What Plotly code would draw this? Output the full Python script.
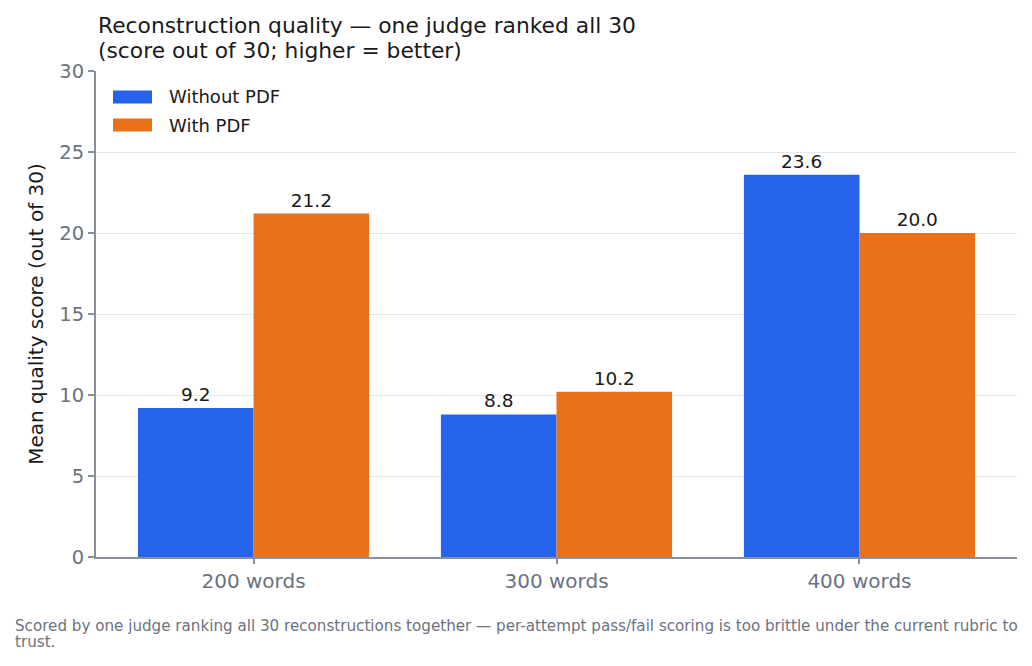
import plotly.graph_objects as go

categories = ["200 words", "300 words", "400 words"]
without_pdf = [9.2, 8.8, 23.6]
with_pdf = [21.2, 10.2, 20.0]
series_names = ["Without PDF", "With PDF"]
colors = ["#2563EB", "#E8711A"]
title_lines = ["Reconstruction quality — one judge ranked all 30",
               "(score out of 30; higher = better)"]
footnote_lines = ["Scored by one judge ranking all 30 reconstructions together — per-attempt pass/fail scoring is too brittle under the current rubric to",
                  "trust."]

FONT = "DejaVu Sans"
W, H = 1032, 666
L, R, T, B = 96, 15, 71, 109
PW, PH = W - L - R, H - T - B

def px_x(x):
    return (x - L) / PW

def px_y(y):
    return (H - B - y) / PH

fig = go.Figure()
for name, vals, col in zip(series_names, [without_pdf, with_pdf], colors):
    fig.add_trace(go.Bar(
        x=categories, y=vals, name=name, marker_color=col, marker_line_width=0,
        text=[f"{v:.1f}" for v in vals], textposition="outside",
        textfont=dict(size=18.5, color="#1a1a1a", family=FONT),
        cliponaxis=False, showlegend=False,
    ))

annotations = []
shapes = []
# title lines
for i, line in enumerate(title_lines):
    annotations.append(dict(
        text=line, xref="paper", yref="paper", x=px_x(96), y=px_y(25 + 25 * i),
        xanchor="left", yanchor="middle", showarrow=False, align="left",
        font=dict(size=21.8, color="#1a1a1a", family=FONT),
    ))
# legend (manual, wide swatches)
for i, (name, col) in enumerate(zip(series_names, colors)):
    yc = 97 + 28 * i
    shapes.append(dict(type="rect", xref="paper", yref="paper",
                       x0=px_x(113), x1=px_x(152), y0=px_y(yc - 6.5), y1=px_y(yc + 6.5),
                       fillcolor=col, line_width=0))
    annotations.append(dict(
        text=name, xref="paper", yref="paper", x=px_x(167), y=px_y(yc),
        xanchor="left", yanchor="middle", showarrow=False,
        font=dict(size=18, color="#1a1a1a", family=FONT),
    ))
# footnote lines
for i, line in enumerate(footnote_lines):
    annotations.append(dict(
        text=line, xref="paper", yref="paper", x=px_x(13), y=px_y(626 + 16 * i),
        xanchor="left", yanchor="middle", showarrow=False, align="left",
        font=dict(size=15.15, color="#6b7280", family=FONT),
    ))

fig.update_layout(
    width=W, height=H,
    margin=dict(l=L, r=R, t=T, b=B),
    barmode="group", bargap=0.237, bargroupgap=0,
    plot_bgcolor="white", paper_bgcolor="white",
    font=dict(family=FONT, color="#1a1a1a"),
    showlegend=False,
    yaxis=dict(
        range=[0, 30], dtick=5, showgrid=True, gridcolor="#e5e7eb", gridwidth=1,
        showline=True, linecolor="#8a8f9c", linewidth=2,
        ticks="outside", tickcolor="#8a8f9c", ticklen=6, tickwidth=1.5,
        tickfont=dict(size=19.5, color="#6b7280", family=FONT),
        title=dict(text="Mean quality score (out of 30)",
                   font=dict(size=20, color="#1a1a1a", family=FONT), standoff=10),
        zeroline=False,
    ),
    xaxis=dict(
        range=[-0.52, 2.52],
        showline=True, linecolor="#8a8f9c", linewidth=2,
        ticks="outside", tickcolor="#8a8f9c", ticklen=5, tickwidth=1.5,
        tickfont=dict(size=20, color="#6b7280", family=FONT),
    ),
    annotations=annotations,
    shapes=shapes,
)

fig.write_html("out.html")
